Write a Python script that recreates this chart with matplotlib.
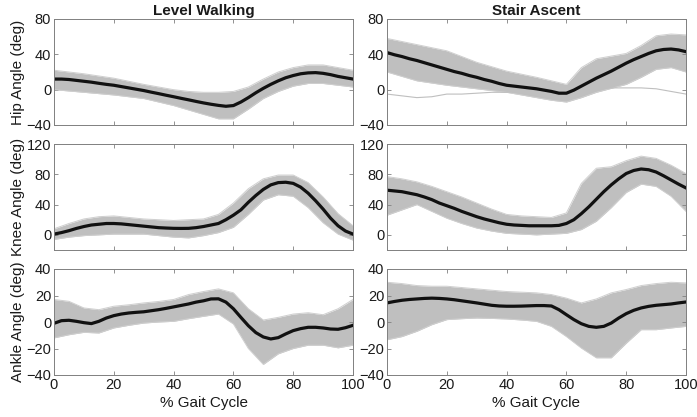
import numpy as np
import matplotlib
matplotlib.use('Agg')
import matplotlib.pyplot as plt

plt.rcParams['font.family'] = ['Liberation Sans', 'DejaVu Sans']

gait = [0, 5, 10, 15, 20, 25, 30, 35, 40, 45, 50, 55, 60, 65, 70, 75, 80, 85, 90, 95, 100]
# % gait cycle where the mean curves were read
gait_fine = [i * 2.5 for i in range(41)]

# hip, level walking
hip_lw_mean = [12, 12, 11.5, 10.5, 9.5, 8.5, 7.2, 6, 5, 3.5, 2, 0.5, -1, -2.8, -4.5, -6.3, -8, -9.8, -11.5, -13.3,
               -15, -16.5, -17.8, -18.8, -18, -14, -9, -3.5, 1.5, 6, 10, 13.5, 16, 18, 19, 19.3, 18.5, 17, 15, 13.5, 12]
hip_lw_up = [22, 20, 18, 15.5, 13, 9.5, 6, 3, 0, -2, -3, -3, -2, 3, 12, 20, 25, 28, 28, 25, 22]
hip_lw_lo = [0, -1.5, -3, -4.5, -6, -8, -10, -14, -18, -23, -28, -33, -33, -22, -10, -2, 4, 7, 7, 5, 3]

# hip, stair ascent
hip_sa_mean = [42, 39.5, 37.5, 35, 33, 30.5, 28, 25.5, 23, 20.5, 18.5, 16, 14, 11.5, 9.5, 7, 5, 4, 3, 2,
               1, -0.5, -2, -4, -4, -0.5, 4, 8.5, 13, 17, 21, 25.5, 30, 34, 37.5, 41, 44, 45.5, 46, 45, 43]
hip_sa_up = [58, 54.5, 51, 47.5, 44, 37.5, 31, 26, 21, 17.5, 14, 10, 6, 25, 35, 38, 41, 50, 61, 63, 62]
hip_sa_lo = [20, 15, 10, 7.5, 5, 3, 1, -1, -3, -6, -9, -12, -14, -9, -3, 1.5, 6, 14, 23, 25, 20]
hip_sa_odd = [-5, -7, -9, -8, -5, -5, -4, -3, -3, -2, -1, 0, 0, 1, 2, 2, 2, 2, 1, -2, -5]

# knee, level walking
knee_lw_mean = [1, 3, 5.5, 8.5, 11, 13, 14, 15, 15, 14.5, 13.5, 12.5, 11.5, 10.5, 9.5, 9, 8.6, 8.5, 8.6, 9.5,
                11, 13, 15, 20, 26, 33, 43, 52, 60, 66, 69, 69.5, 68, 63, 55, 45, 34, 22, 12, 5, 1]
knee_lw_up = [8, 15, 21, 24, 25, 23, 21, 20, 19, 20, 21, 27, 42, 61, 74, 79, 79, 69, 50, 28, 12]
knee_lw_lo = [-6, -3, -1, 0, 1, 1, 1, -1, -3, -4, -1, 3, 10, 27, 46, 53, 51, 36, 16, 1, -7]

# knee, stair ascent
knee_sa_mean = [59, 58, 57, 55, 53, 50, 46.5, 42, 38.5, 35, 31, 27.5, 24, 21, 18.5, 16, 14, 13, 12.5, 12,
                12, 12, 12, 12.5, 15, 20, 28, 37, 47, 57, 66, 74, 81, 85, 87, 86, 83, 78, 72.5, 67, 62]
knee_sa_up = [77, 74, 70, 64, 57, 50, 42, 34, 27, 25, 24, 23, 29, 68, 88, 90, 98, 104, 101, 92, 81]
knee_sa_lo = [26, 33, 40, 31, 22, 15, 9, 5, 2, 1, 0, 1, 2, 7, 18, 36, 56, 67, 64, 51, 31]

# ankle, level walking
ankle_lw_mean = [-1, 1, 1.3, 0.5, -0.5, -1.2, 0.5, 3, 4.8, 6, 6.8, 7.3, 7.7, 8.5, 9.3, 10.3, 11.4, 12.5, 13.6, 15,
                 16, 17.4, 17.5, 15, 10, 3.5, -2.8, -8, -11.3, -12.8, -11.8, -9, -6.5, -5, -4, -4, -4.5, -5.3, -5.5, -4.3, -2.5]
ankle_lw_up = [17, 15.6, 10.6, 9.3, 11.9, 13, 14.4, 15.5, 17, 20.7, 23, 25, 22, 10, 1.5, 3.5, 6, 7, 5.5, 10, 17]
ankle_lw_lo = [-12, -9.6, -7.8, -8.3, -4.5, -2.5, -0.8, 0, 0.5, 2.5, 4.3, 6, -1.5, -20, -32, -24, -20, -17.5, -17.5, -19.5, -17.5]

# ankle, stair ascent
ankle_sa_mean = [14.4, 15.5, 16.4, 17, 17.4, 17.8, 18, 17.8, 17.4, 16.8, 16, 15.2, 14.4, 13.5, 12.6, 12.1, 11.9, 11.9, 12, 12.2,
                 12.4, 12.4, 12.1, 9.3, 5.5, 1.8, -1.3, -3.3, -4, -3.3, -0.8, 3, 6.3, 8.8, 10.6, 11.8, 12.6, 13.1, 13.6, 14.4, 15.1]
ankle_sa_up = [30, 29, 27.5, 27, 27, 26, 25, 24, 23, 22.5, 22, 20.7, 18, 14.4, 17.4, 22, 24.5, 27.5, 29, 30, 29.5]
ankle_sa_lo = [-13.4, -11, -7, -2, 1.8, 2.5, 3, 2.7, 2.3, 1.5, 0.5, -3.3, -11, -19.7, -27, -27, -16, -5.8, -5.8, -4.5, -3.3]

panels = [
    [(hip_lw_mean, hip_lw_up, hip_lw_lo), (hip_sa_mean, hip_sa_up, hip_sa_lo)],
    [(knee_lw_mean, knee_lw_up, knee_lw_lo), (knee_sa_mean, knee_sa_up, knee_sa_lo)],
    [(ankle_lw_mean, ankle_lw_up, ankle_lw_lo), (ankle_sa_mean, ankle_sa_up, ankle_sa_lo)],
]
row_labels = ['Hip Angle (deg)', 'Knee Angle (deg)', 'Ankle Angle (deg)']
col_titles = ['Level Walking', 'Stair Ascent']
ylims = [(-40, 80), (-20, 120), (-40, 40)]
yticks = [[-40, 0, 40, 80], [0, 40, 80, 120], [-40, -20, 0, 20, 40]]

fig = plt.figure(figsize=(6.97, 4.17), dpi=100)
lefts = [54 / 697, 387 / 697]
bottoms = [292 / 417, 167 / 417, 42 / 417]
w = 299 / 697
h = 106 / 417
band = '#bfbfbf'

for r in range(3):
    for c in range(2):
        ax = fig.add_axes([lefts[c], bottoms[r], w, h])
        mean, up, lo = panels[r][c]
        ax.fill_between(gait, lo, up, color=band, lw=0)
        ax.plot(gait, up, color='#cfcfcf', lw=0.7)
        ax.plot(gait, lo, color='#cfcfcf', lw=0.7)
        if r == 0 and c == 1:
            ax.plot(gait, hip_sa_odd, color='#bfbfbf', lw=0.8)
        ax.plot(gait_fine, mean, color='#111111', lw=2.3)
        ax.set_xlim(0, 100)
        ax.set_ylim(*ylims[r])
        ax.set_xticks([0, 20, 40, 60, 80, 100])
        ax.set_yticks(yticks[r])
        ax.tick_params(direction='in', length=3, width=0.6, color='#808080',
                       top=True, right=True, labelsize=10.5, labelcolor='#1a1a1a', pad=2)
        for s in ax.spines.values():
            s.set_color('#808080')
            s.set_linewidth(0.7)
        if r < 2:
            ax.set_xticklabels([])
        else:
            ax.set_xlabel('% Gait Cycle', fontsize=11, color='#1a1a1a', labelpad=3)
        if c == 0:
            ax.set_ylabel(row_labels[r], fontsize=11, color='#1a1a1a', labelpad=1)
        if r == 0:
            ax.set_title(col_titles[c], fontsize=11, fontweight='bold', color='#1a1a1a', pad=3)

fig.savefig('out.png', dpi=100)
